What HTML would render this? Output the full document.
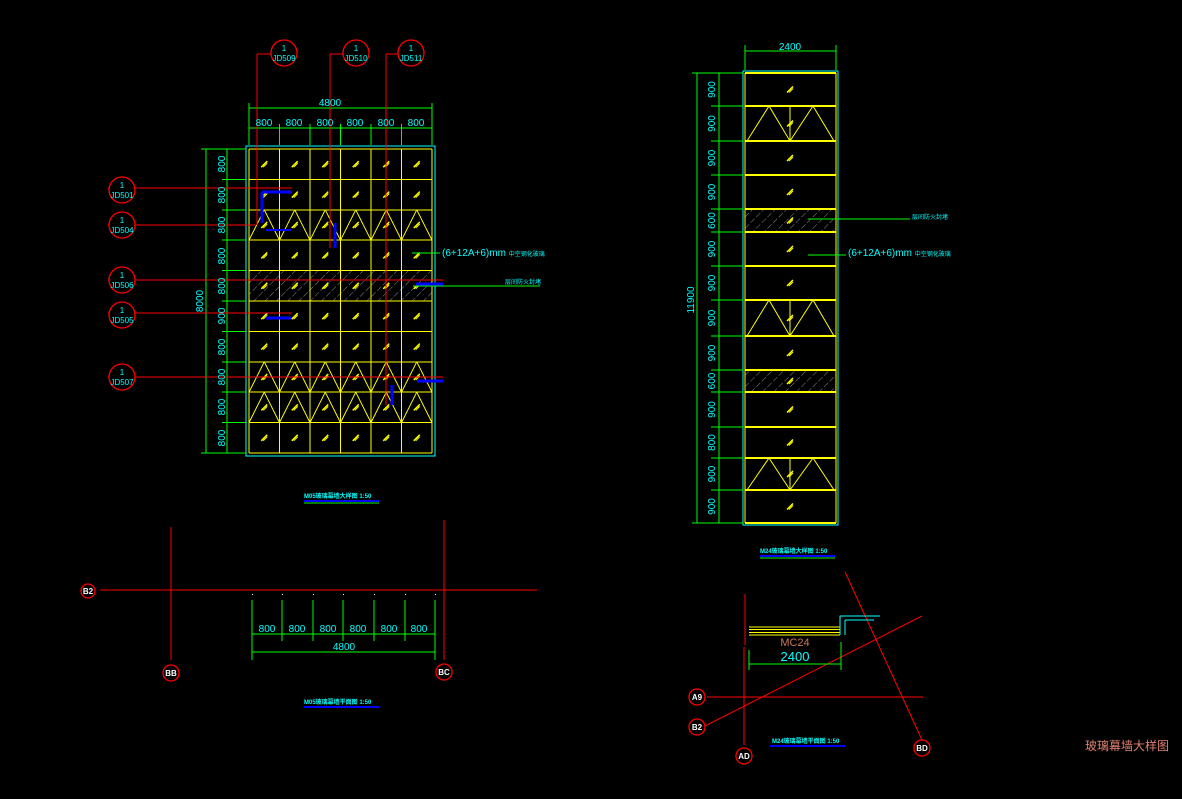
<!DOCTYPE html>
<html><head><meta charset="utf-8"><style>
html,body{margin:0;padding:0;background:#000;width:1182px;height:799px;overflow:hidden}
svg{display:block}
line{shape-rendering:crispEdges}
text{font-family:"Liberation Sans","Noto Sans CJK SC",sans-serif}
</style></head><body>
<svg id="s" width="1182" height="799" viewBox="0 0 1182 799" xmlns="http://www.w3.org/2000/svg">
<defs>
<pattern id="h" width="8" height="8" patternUnits="userSpaceOnUse" patternTransform="rotate(45)"><line x1="0" y1="0" x2="0" y2="8" stroke="#888" stroke-width="1" stroke-dasharray="3,2"/></pattern>
</defs>
<g id="g"></g>
<g fill="#00ffff" font-size="10">
<text x="330" y="106" text-anchor="middle">4800</text>
<text x="264" y="126" text-anchor="middle">800</text><text x="294" y="126" text-anchor="middle">800</text><text x="325" y="126" text-anchor="middle">800</text><text x="355" y="126" text-anchor="middle">800</text><text x="386" y="126" text-anchor="middle">800</text><text x="416" y="126" text-anchor="middle">800</text>
<text transform="translate(203,301) rotate(-90)" text-anchor="middle">8000</text>
<text transform="translate(225,164) rotate(-90)" text-anchor="middle">800</text>
<text transform="translate(225,195) rotate(-90)" text-anchor="middle">800</text>
<text transform="translate(225,225) rotate(-90)" text-anchor="middle">800</text>
<text transform="translate(225,256) rotate(-90)" text-anchor="middle">800</text>
<text transform="translate(225,286) rotate(-90)" text-anchor="middle">800</text>
<text transform="translate(225,316) rotate(-90)" text-anchor="middle">900</text>
<text transform="translate(225,347) rotate(-90)" text-anchor="middle">800</text>
<text transform="translate(225,377) rotate(-90)" text-anchor="middle">800</text>
<text transform="translate(225,407) rotate(-90)" text-anchor="middle">800</text>
<text transform="translate(225,438) rotate(-90)" text-anchor="middle">800</text>
<text x="442" y="256" font-size="10">(6+12A+6)mm <tspan font-size="6">中空钢化玻璃</tspan></text>
<text x="505" y="284" font-size="6">层间防火封堵</text>
<text x="267" y="632" text-anchor="middle">800</text><text x="297" y="632" text-anchor="middle">800</text><text x="328" y="632" text-anchor="middle">800</text><text x="358" y="632" text-anchor="middle">800</text><text x="389" y="632" text-anchor="middle">800</text><text x="419" y="632" text-anchor="middle">800</text>
<text x="344" y="650" text-anchor="middle">4800</text>
<text x="790" y="50" text-anchor="middle">2400</text>
<text transform="translate(694,300) rotate(-90)" text-anchor="middle">11900</text>
<text x="848" y="256" font-size="10">(6+12A+6)mm <tspan font-size="6">中空钢化玻璃</tspan></text>
<text x="912" y="219" font-size="6">层间防火封堵</text>
<text x="795" y="661" text-anchor="middle" font-size="13">2400</text>
</g>
<g id="rd" fill="#00ffff" font-size="10"></g>
<text x="795" y="646" text-anchor="middle" font-size="11" fill="#c87860">MC24</text>
<g fill="#00ffff" font-size="6" font-weight="bold">
<text x="304" y="498">M05玻璃幕墙大样图 1:50</text>
<text x="304" y="704">M05玻璃幕墙平面图 1:50</text>
<text x="760" y="553">M24玻璃幕墙大样图 1:50</text>
<text x="772" y="743">M24玻璃幕墙平面图 1:50</text>
</g>
<g stroke-width="2"><line x1="304" y1="501" x2="379" y2="501" stroke="#00f"/><line x1="304" y1="707" x2="379" y2="707" stroke="#00f"/><line x1="760" y1="556" x2="835" y2="556" stroke="#00f"/><line x1="770" y1="746" x2="845" y2="746" stroke="#00f"/></g>
<g stroke="#0f0" stroke-width="1"><line x1="304" y1="503" x2="379" y2="503"/><line x1="760" y1="558" x2="835" y2="558"/></g>
<g id="circ" font-size="8" text-anchor="middle"></g>
<text x="1085" y="750" font-size="12" fill="#e08070" font-family="'Liberation Serif','Noto Serif CJK SC',serif">玻璃幕墙大样图</text>
</svg>
<script>
var NS="http://www.w3.org/2000/svg",G=document.getElementById('g');
function L(x1,y1,x2,y2,c,w,d){var e=document.createElementNS(NS,'line');e.setAttribute('x1',x1);e.setAttribute('y1',y1);e.setAttribute('x2',x2);e.setAttribute('y2',y2);e.setAttribute('stroke',c);e.setAttribute('stroke-width',w||1);if(d)e.setAttribute('stroke-dasharray',d);if(x1!=x2&&y1!=y2)e.style.shapeRendering='auto';G.appendChild(e);}
function R(x,y,w,h,f,s){var e=document.createElementNS(NS,'rect');e.setAttribute('x',x);e.setAttribute('y',y);e.setAttribute('width',w);e.setAttribute('height',h);e.setAttribute('fill',f||'none');if(s)e.setAttribute('stroke',s);G.appendChild(e);}
function glass(x,y){L(x-3,y+3,x+3,y-3,'#ff0',1.5);L(x-1,y+3,x+3,y-1,'#ff0',1);}
var Y='#ff0';
var cx=[249,279.5,310,340.5,371,401.5,432],ry=[];for(var i=0;i<=10;i++)ry.push(149+i*30.4);
R(246,146,189,310,null,'#0ff');
R(249,271,183,30,'url(#h)');
for(i=0;i<cx.length;i++)L(cx[i],149,cx[i],453,Y);
for(i=0;i<ry.length;i++)L(249,ry[i],432,ry[i],Y);
for(var r=0;r<10;r++)for(var c=0;c<6;c++){var xm=(cx[c]+cx[c+1])/2;glass(xm,(ry[r]+ry[r+1])/2);
 if(r==2||r==7||r==8){L(cx[c],ry[r+1],xm,ry[r],Y);L(xm,ry[r],cx[c+1],ry[r+1],Y);}}
var GR='#0f0';
L(249,108,432,108,GR);L(249,128,432,128,GR);L(249,103,249,145,GR);L(432,103,432,145,GR);
for(i=1;i<6;i++)L(cx[i],124,cx[i],145,GR);
L(206,149,206,453,GR);L(227,149,227,453,GR);L(201,149,246,149,GR);L(201,453,246,453,GR);
for(i=1;i<10;i++)L(222,ry[i],246,ry[i],GR);
var RD='#f00';
L(108,188,292,188,RD);L(108,225,255,225,RD);L(108,280,443,280,RD);L(108,313,292,313,RD);L(108,377,443,377,RD);
L(271,54,257,54,RD);L(257,54,257,225,RD);L(343,54,330,54,RD);L(330,54,330,248,RD);L(398,54,386,54,RD);L(386,54,386,405,RD);
var B='#00f';
L(262,192,292,192,B,3);L(262,192,262,223,B,3);L(266,230,291,230,B,2);L(335,223,335,248,B,3);L(416,284,443,284,B,3);L(266,318,291,318,B,3);L(417,381,443,381,B,3);L(392,385,392,405,B,3);
L(412,253,440,253,GR);L(413,286,540,286,GR);
L(100,590,537,590,RD);L(171,527,171,660,RD);L(444,520,444,660,RD);
var px=[252,282,313,343,374,405,435];
for(i=0;i<7;i++){L(px[i],600,px[i],641,GR);R(px[i],594,1,1,'#fff');}
L(252,634,435,634,GR);L(252,652,435,652,GR);L(252,634,252,660,GR);L(435,634,435,660,GR);
var yy=[73,106,141,175,209,232,266,300,336,370,392,427,458,490,523];
var lab=['900','900','900','900','600','900','900','900','900','600','900','800','900','900'];
R(743,71,95,454,null,'#0ff');
R(745,209,91,23,'url(#h)');R(745,370,91,22,'url(#h)');
L(745,73,745,523,Y);L(836,73,836,523,Y);
var rd=document.getElementById('rd');
for(i=0;i<yy.length;i++){L(745,yy[i],836,yy[i],Y,2);if(i>0)L(711,yy[i],743,yy[i],GR);}
for(i=0;i<14;i++){var a=yy[i],b=yy[i+1],m=(a+b)/2;
 var t=document.createElementNS(NS,'text');t.setAttribute('transform','translate(715,'+m+') rotate(-90)');t.setAttribute('text-anchor','middle');t.textContent=lab[i];rd.appendChild(t);
 if(i==1||i==7||i==12){L(790,a,790,b,Y);L(747,b,769,a,Y);L(769,a,790,b,Y);L(790,b,813,a,Y);L(813,a,834,b,Y);glass(790,m);}
 else glass(790,m);}
L(697,73,697,523,GR);L(719,73,719,523,GR);L(692,73,743,73,GR);L(692,523,743,523,GR);
L(745,51,836,51,GR);L(745,45,745,70,GR);L(836,45,836,70,GR);
L(808,219,910,219,GR);L(808,255,846,255,GR);
L(745,594,745,645,RD);L(744,647,744,745,RD);
L(707,697,923,697,RD);L(703,727,922,616,RD);L(845,572,922,740,RD);
for(i=0;i<4;i++)L(749,627+i*2.7,840,627+i*2.7,Y);
L(840,616,840,635,'#0ff');L(840,616,880,616,'#0ff');L(845,620,874,620,'#0ff');L(845,620,845,635,'#0ff');
L(749,664,841,664,GR);L(749,650,749,670,GR);L(841,642,841,670,GR);
var cg=document.getElementById('circ');
function C(x,y,r,t1,t2){var e=document.createElementNS(NS,'circle');e.setAttribute('cx',x);e.setAttribute('cy',y);e.setAttribute('r',r);e.setAttribute('fill','#000');e.setAttribute('stroke',RD);e.setAttribute('stroke-width',1.3);cg.appendChild(e);
 if(t2){var a=document.createElementNS(NS,'text');a.setAttribute('x',x);a.setAttribute('y',y-2);a.setAttribute('fill','#0ff');a.textContent=t1;cg.appendChild(a);L(x-r,y,x+r,y,RD);var b=document.createElementNS(NS,'text');b.setAttribute('x',x);b.setAttribute('y',y+8);b.setAttribute('fill','#0ff');b.textContent=t2;cg.appendChild(b);}
 else{var a2=document.createElementNS(NS,'text');a2.setAttribute('x',x);a2.setAttribute('y',y+3);a2.setAttribute('fill','#fff');a2.setAttribute('font-weight','bold');a2.textContent=t1;cg.appendChild(a2);}}
C(284,53,13,'1','JD509');C(356,53,13,'1','JD510');C(411,53,13,'1','JD511');
C(122,190,13,'1','JD501');C(122,225,13,'1','JD504');C(122,280,13,'1','JD506');C(122,315,13,'1','JD505');C(122,377,13,'1','JD507');
C(88,591,7,'B2');C(171,673,8,'BB');C(444,672,8,'BC');
C(697,697,8,'A9');C(697,727,8,'B2');C(744,756,8,'AD');C(922,748,8,'BD');
</script>
</body></html>
